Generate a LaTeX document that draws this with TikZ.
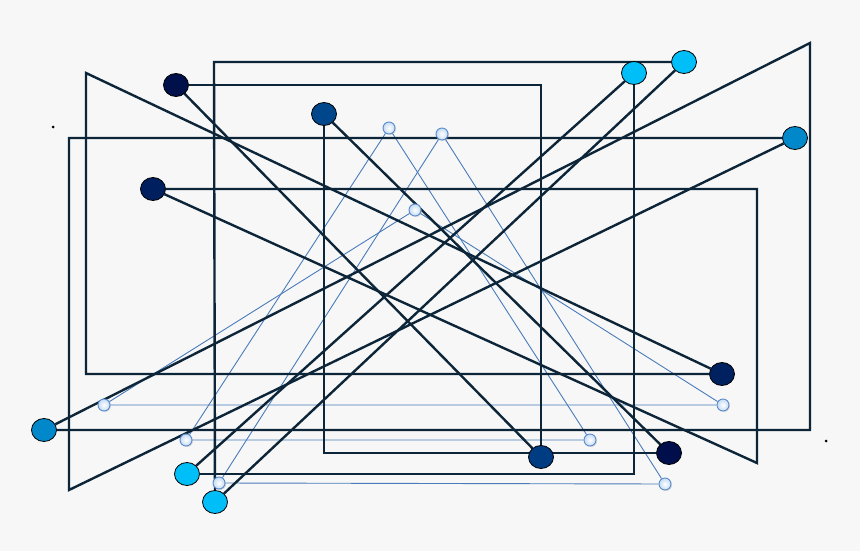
\documentclass[tikz,border=0pt]{standalone}
\RequirePackage{tikz}
\usetikzlibrary{shapes.geometric}
\usetikzlibrary{shadows}
\usetikzlibrary{backgrounds}

\definecolor{bgcol}{HTML}{F7F7F7}
\definecolor{edgecol}{HTML}{0C2538}
\definecolor{finecol}{HTML}{4A7BBA}
\definecolor{rimcol}{HTML}{5A8BCB}
\definecolor{palecol}{HTML}{C4DBF4}
\definecolor{navya}{HTML}{00104A}
\definecolor{navyb}{HTML}{003C82}
\definecolor{navyc}{HTML}{00468A}
\definecolor{navyd}{HTML}{000F4C}
\definecolor{navye}{HTML}{001F5E}
\definecolor{navyf}{HTML}{00215F}
\definecolor{skycol}{HTML}{00BEF8}
\definecolor{midcol}{HTML}{0088CA}

\begin{document}
\begin{tikzpicture}[x=1pt,y=-1pt,
    edge/.style={draw=edgecol,line width=2.4pt},
    fine/.style={draw=finecol,line width=0.9pt},
    big/.style={ellipse,draw=black,line width=0.8pt,minimum width=25pt,minimum height=23pt,inner sep=0pt},
    small/.style={circle,draw=rimcol,line width=0.9pt,minimum size=12pt,inner sep=0pt,
        inner color=white,outer color=palecol,
        drop shadow={shadow xshift=1pt,shadow yshift=-1pt,opacity=0.25}},
    dot/.style={circle,fill=black,minimum size=3pt,inner sep=0pt}]
                        \useasboundingbox (0,0) rectangle (860,551);
                        % large nodes
                        \node[big,fill=navya] (nA) at (176,85) {};
                        \node[big,fill=navyb] (nB) at (541,457) {};
                        \node[big,fill=navyc] (nC) at (324,114) {};
                        \node[big,fill=navyd] (nD) at (669,453) {};
                        \node[big,fill=navye] (nE) at (153,189) {};
                        \node[big,fill=navyf] (nF) at (722,374) {};
                        \node[big,fill=skycol] (nG) at (684,62) {};
                        \node[big,fill=skycol] (nH) at (634,73) {};
                        \node[big,fill=skycol] (nI) at (187,474) {};
                        \node[big,fill=skycol] (nJ) at (215,502) {};
                        \node[big,fill=midcol] (nK) at (795,138) {};
                        \node[big,fill=midcol] (nL) at (44,430) {};
                        % small nodes
                        \node[small] (s1) at (389,128) {};
                        \node[small] (s2) at (442,134) {};
                        \node[small] (s3) at (415,210) {};
                        \node[small] (s4) at (104,405) {};
                        \node[small] (s5) at (723,405) {};
                        \node[small] (s6) at (186,440) {};
                        \node[small] (s7) at (590,440) {};
                        \node[small] (s8) at (219,483) {};
                        \node[small] (s9) at (665,484) {};
                        \node[dot] (d1) at (53,127) {};
                        \node[dot] (d2) at (826,441) {};
                        % corners
                        \coordinate (cAB) at (541,85);
                        \coordinate (cCD) at (324,453);
                        \coordinate (tF) at (86,73);
                        \coordinate (cF) at (86,374);
                        \coordinate (cE) at (757,189);
                        \coordinate (tE) at (757,463);
                        \coordinate (cGJ) at (214,62);
                        \coordinate (cHI) at (634,474);
                        \coordinate (tL) at (810,43);
                        \coordinate (cL) at (810,430);
                        \coordinate (cK) at (69,138);
                        \coordinate (tK) at (69,490);
                        \begin{scope}[on background layer]
                        \fill[bgcol] (0,0) rectangle (860,551);
                        \draw[fine] (s3) -- (s4) -- (s5) -- (s3);
                        \draw[fine] (s1) -- (s6) -- (s7) -- (s1);
                        \draw[fine] (s2) -- (s8) -- (s9) -- (s2);
                        \draw[edge] (nA) -- (cAB) -- (nB);
                        \draw[edge] (nA) -- (nB);
                        \draw[edge] (nC) -- (cCD) -- (nD);
                        \draw[edge] (nC) -- (nD);
                        \draw[edge] (nF) -- (tF) -- (cF) -- (nF);
                        \draw[edge] (nE) -- (cE) -- (tE) -- (nE);
                        \draw[edge] (nG) -- (cGJ) -- (nJ);
                        \draw[edge] (nG) -- (nJ);
                        \draw[edge] (nH) -- (cHI) -- (nI);
                        \draw[edge] (nH) -- (nI);
                        \draw[edge] (nL) -- (tL) -- (cL) -- (nL);
                        \draw[edge] (nK) -- (cK) -- (tK) -- (nK);
                        \end{scope}
                    \end{tikzpicture}
\end{document}
